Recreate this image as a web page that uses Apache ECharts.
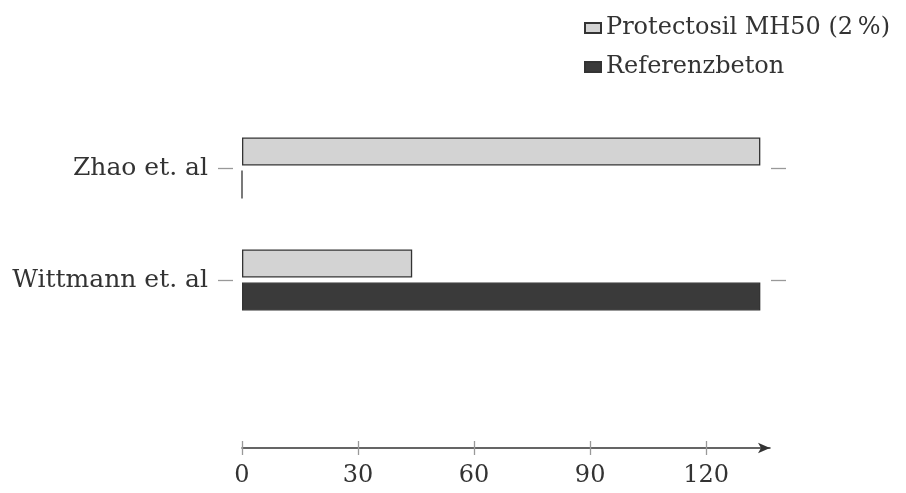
<!DOCTYPE html>
<html>
<head>
<meta charset="utf-8" />
<title>xbar</title>
<script src="https://cdn.jsdelivr.net/npm/echarts@6/dist/echarts.min.js"></script>
<style>
  html, body { margin: 0; padding: 0; background: #fff; }
  #main { width: 906px; height: 493px; }
</style>
</head>
<body>
<div id="main"></div>
<script>
// data
var categories = ['Zhao et. al', 'Wittmann et. al'];
var protectosil = [134, 44];
var referenz = [0, 134];
var xTicks = [0, 30, 60, 90, 120];
var seriesNames = ['Protectosil MH50 (2\u2009%)', 'Referenzbeton'];

var font = 'DejaVu Serif';
var tickStyle = { color: '#999', width: 1.3 };
var chart = echarts.init(document.getElementById('main'));

chart.setOption({
  animation: false,
  textStyle: { fontFamily: font, color: '#333' },
  legend: {
    orient: 'vertical',
    left: 584,
    top: 16,
    padding: 0,
    icon: 'rect',
    itemWidth: 16,
    itemHeight: 10,
    itemGap: 15,
    textStyle: { fontFamily: font, fontSize: 24, color: '#333' },
    data: seriesNames
  },
  // grid 0 holds the bars, grid 1 only carries the category ticks/labels
  grid: [
    { left: 242, right: 136, top: 112, bottom: 157 },
    { left: 233, right: 135, top: 112, bottom: 157 }
  ],
  xAxis: [{
    type: 'value',
    gridIndex: 0,
    min: 0,
    max: 136.5,
    offset: 112,
    axisLine: { show: true, symbol: ['none', 'arrow'], symbolSize: [8, 12], lineStyle: { color: '#333', width: 1.5 } },
    axisTick: { show: true, length: 7, customValues: xTicks, lineStyle: tickStyle },
    axisLabel: { customValues: xTicks, margin: 16, fontSize: 24, color: '#333', fontFamily: font },
    splitLine: { show: false }
  }, {
    type: 'value',
    gridIndex: 0,
    min: 0,
    max: 136.5,
    offset: 112,
    position: 'bottom',
    axisLine: { show: false },
    axisTick: { show: true, inside: true, length: 7, customValues: xTicks, lineStyle: tickStyle },
    axisLabel: { show: false },
    splitLine: { show: false }
  }, {
    type: 'value',
    gridIndex: 1,
    show: false
  }],
  yAxis: [{
    type: 'category',
    gridIndex: 0,
    data: categories,
    inverse: true,
    show: false
  }, {
    type: 'category',
    gridIndex: 1,
    data: categories,
    inverse: true,
    position: 'left',
    axisLine: { show: false },
    axisTick: { show: true, alignWithLabel: true, length: 15, lineStyle: tickStyle },
    axisLabel: { margin: 25, fontSize: 25, color: '#333', fontFamily: font }
  }, {
    type: 'category',
    gridIndex: 1,
    data: categories,
    inverse: true,
    position: 'right',
    axisLine: { show: false },
    axisTick: { show: true, alignWithLabel: true, length: 15, lineStyle: tickStyle },
    axisLabel: { show: false }
  }],
  series: [{
    name: seriesNames[0],
    type: 'bar',
    xAxisIndex: 0,
    yAxisIndex: 0,
    data: protectosil,
    barWidth: 28,
    barGap: '18%',
    itemStyle: { color: '#d3d3d3', borderColor: '#333', borderWidth: 1.3 }
  }, {
    name: seriesNames[1],
    type: 'bar',
    xAxisIndex: 0,
    yAxisIndex: 0,
    data: referenz,
    barWidth: 28,
    barGap: '18%',
    itemStyle: { color: '#3a3a3a', borderColor: '#333', borderWidth: 1.3 }
  }]
});

window.onresize = function() {
  chart.resize();
};
</script>
</body>
</html>
